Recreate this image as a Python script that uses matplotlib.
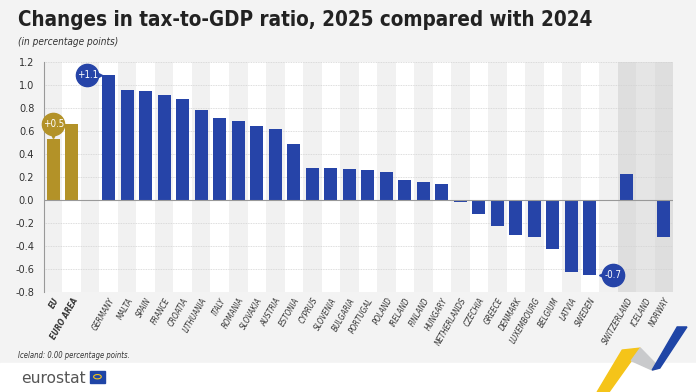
import numpy as np
import matplotlib
matplotlib.use("Agg")
import matplotlib.pyplot as plt
from matplotlib.patches import Polygon, Rectangle, Circle

# data
agg_labels = ["EU", "EURO AREA"]
agg_values = [0.53, 0.66]
eu_labels = ["GERMANY", "MALTA", "SPAIN", "FRANCE", "CROATIA", "LITHUANIA", "ITALY",
             "ROMANIA", "SLOVAKIA", "AUSTRIA", "ESTONIA", "CYPRUS", "SLOVENIA", "BULGARIA",
             "PORTUGAL", "POLAND", "IRELAND", "FINLAND", "HUNGARY", "NETHERLANDS", "CZECHIA",
             "GREECE", "DENMARK", "LUXEMBOURG", "BELGIUM", "LATVIA", "SWEDEN"]
eu_values = [1.09, 0.96, 0.95, 0.91, 0.88, 0.78, 0.71, 0.69, 0.64, 0.62, 0.49, 0.28, 0.28,
             0.27, 0.26, 0.24, 0.17, 0.16, 0.14, -0.02, -0.12, -0.23, -0.30, -0.32, -0.43,
             -0.63, -0.65]
efta_labels = ["SWITZERLAND", "ICELAND", "NORWAY"]
efta_values = [0.23, 0.00, -0.32]
yticks = [-0.8, -0.6, -0.4, -0.2, 0.0, 0.2, 0.4, 0.6, 0.8, 1.0, 1.2]

blue = "#2644a8"
gold = "#b39228"
bg = "#f3f3f3"
plt.rcParams["font.family"] = ["DejaVu Sans"]
plt.rcParams["font.stretch"] = "condensed"

pos_agg = np.arange(len(agg_labels))
pos_eu = np.arange(len(eu_labels)) + len(agg_labels) + 1
pos_efta = np.arange(len(efta_labels)) + pos_eu[-1] + 2
n_slots = pos_efta[-1] + 1

fig = plt.figure(figsize=(6.96, 3.92), dpi=100, facecolor=bg)
ax = fig.add_axes([0.0632, 0.255, 0.9038, 0.587])
ax.set_facecolor("white")
ax.set_xlim(-0.5, n_slots - 0.5)
ax.set_ylim(-0.8, 1.2)

# column shading
for i in range(n_slots):
    if i >= pos_efta[0]:
        c = "#dedede" if i % 2 == 1 else "#e5e5e5"
    else:
        c = "#f1f1f1" if i % 2 == 0 else "white"
    ax.axvspan(i - 0.5, i + 0.5, color=c, zorder=0, lw=0)

ax.set_yticks(yticks)
ax.set_yticklabels([f"{v:.1f}" for v in yticks], fontsize=7.8, color="#333333")
for y in yticks:
    if y != 0:
        ax.axhline(y, color="#d2d2d2", lw=0.6, ls=(0, (1, 1)), zorder=1)
ax.axhline(0, color="#999999", lw=0.8, zorder=3)

ax.bar(pos_agg, agg_values, width=0.72, color=gold, zorder=2)
ax.bar(pos_eu, eu_values, width=0.72, color=blue, zorder=2)
ax.bar(pos_efta, efta_values, width=0.72, color=blue, zorder=2)

ax.set_xticks(np.concatenate([pos_agg, pos_eu, pos_efta]))
ax.set_xticklabels(agg_labels + eu_labels + efta_labels, rotation=60, ha="right",
                   rotation_mode="anchor", fontsize=5.8, style="italic", color="#333333")
for lbl in ax.get_xticklabels()[:2]:
    lbl.set_fontweight("bold")
ax.tick_params(axis="x", length=0, pad=3)
ax.tick_params(axis="y", length=0, pad=7)
for s in ["top", "right", "bottom"]:
    ax.spines[s].set_visible(False)
ax.spines["left"].set_color("#999999")
ax.spines["left"].set_linewidth(0.8)


def badge(x, y, text, color, point):
    ax.plot(x, y, marker="o", ms=16, color=color, zorder=5, clip_on=False)
    if point == "down":
        ax.plot(x, y - 0.085, marker="v", ms=6, color=color, zorder=5)
    elif point == "right":
        ax.plot(x + 0.55, y, marker=">", ms=6, color=color, zorder=5)
    else:
        ax.plot(x - 0.55, y, marker="<", ms=6, color=color, zorder=5)
    ax.text(x, y, text, color="white", fontsize=7, ha="center", va="center", zorder=6)


badge(pos_agg[0], agg_values[0] + 0.13, "+0.5", gold, "down")
badge(pos_eu[0] - 1.15, eu_values[0], "+1.1", blue, "right")
badge(pos_eu[-1] + 1.25, eu_values[-1] - 0.005, "-0.7", blue, "left")

fig.text(0.026, 0.948, "Changes in tax-to-GDP ratio, 2025 compared with 2024",
         fontsize=14.8, fontweight="bold", color="#222222", va="center")
fig.text(0.026, 0.893, "(in percentage points)", fontsize=7.2, style="italic",
         color="#333333", va="center")
fig.text(0.026, 0.094, "Iceland: 0.00 percentage points.", fontsize=5.5, style="italic",
         color="#333333", va="center")

# white footer band and logo
fig.patches.append(Rectangle((0, 0), 1, 0.074, transform=fig.transFigure,
                             color="white", zorder=0))
fig.text(0.031, 0.035, "eurostat", fontsize=11.2, color="#555555", va="center",
         fontstretch="normal")
fig.patches.append(Rectangle((0.129, 0.024), 0.022, 0.03, transform=fig.transFigure,
                             color="#1f45a6", zorder=1))
fig.patches.append(Circle((0.140, 0.039), 0.0055, transform=fig.transFigure,
                          fill=False, ec="#f5c419", lw=0.8, zorder=2))
# decorative swoosh
fig.patches.append(Polygon([(0.858, 0.0), (0.875, 0.0), (0.920, 0.112), (0.894, 0.107)],
                           closed=True, transform=fig.transFigure, color="#f5c419", zorder=1))
fig.patches.append(Polygon([(0.920, 0.112), (0.907, 0.08), (0.937, 0.056), (0.948, 0.061)],
                           closed=True, transform=fig.transFigure, color="#c9cacc", zorder=1))
fig.patches.append(Polygon([(0.937, 0.056), (0.948, 0.061), (0.987, 0.166), (0.973, 0.166)],
                           closed=True, transform=fig.transFigure, color="#1f45a6", zorder=1))

fig.savefig("out.png", dpi=100, facecolor=bg)
